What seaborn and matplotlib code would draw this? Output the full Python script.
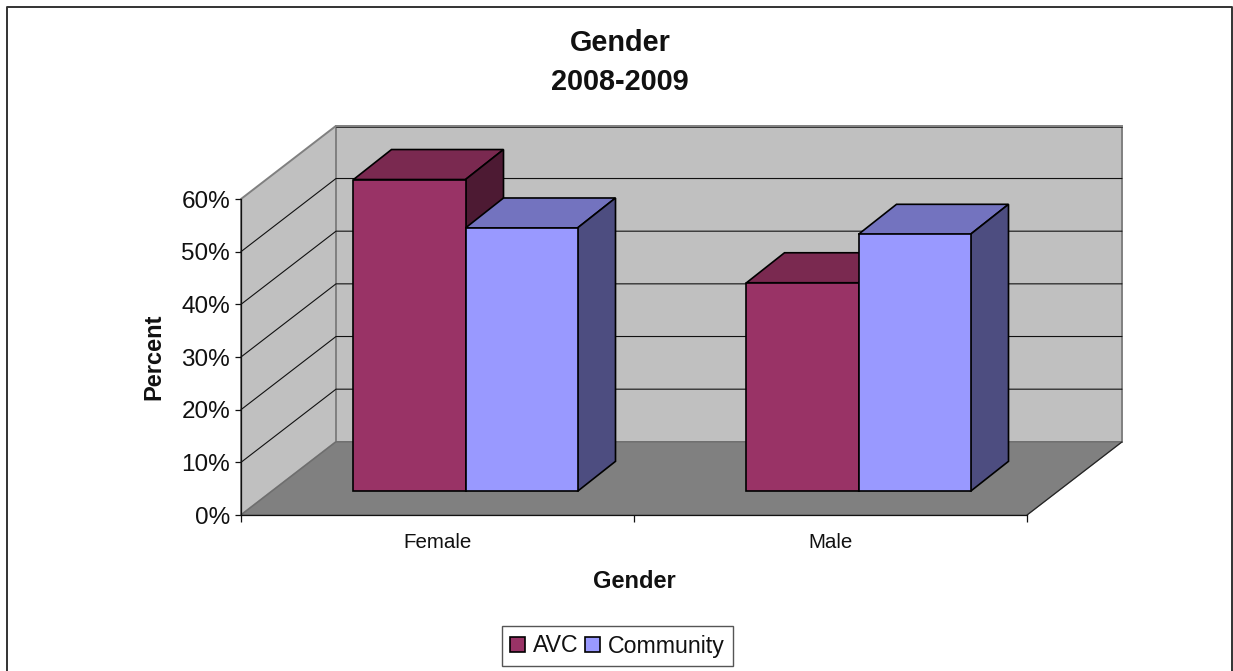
import matplotlib
matplotlib.use('Agg')
import matplotlib.pyplot as plt
from matplotlib.patches import Polygon
from matplotlib.lines import Line2D
import pandas as pd
import seaborn as sns

categories = ['Female', 'Male']
avc = [59.2, 39.6]
community = [50.0, 48.8]
series_names = ['AVC', 'Community']
y_ticks = [0, 10, 20, 30, 40, 50, 60]
y_labels = ['0%', '10%', '20%', '30%', '40%', '50%', '60%']

front_colors = {'AVC': '#993366', 'Community': '#9999FF'}
top_colors = {'AVC': '#7A2950', 'Community': '#7373BF'}
side_colors = {'AVC': '#4D1A33', 'Community': '#4D4D80'}
ink = '#111111'

# depth of the fake 3d box, in data units (393 px per category, 5.27 px per percent)
wall_dx = 95 / 393
wall_dy = 73.2 / 5.27
bar_shift_x = 28 / 393
bar_shift_y = 4.5
bar_dx = 38 / 393
bar_dy = 30 / 5.27

sns.set_theme(style='white')
plt.rcParams['font.family'] = ['Liberation Sans', 'DejaVu Sans']
plt.rcParams['text.color'] = ink
plt.rcParams['axes.labelcolor'] = ink

df = pd.DataFrame({
    'Gender': categories * 2,
    'Percent': avc + community,
    'Series': ['AVC'] * 2 + ['Community'] * 2,
})

W, H = 1233, 671
fig = plt.figure(figsize=(W / 100, H / 100), dpi=100)
ax = fig.add_axes([241 / W, 1 - 515 / H, 786 / W, 316 / H])

sns.barplot(data=df, x='Gender', y='Percent', hue='Series', palette=front_colors,
            hue_order=series_names, order=categories, width=0.57, saturation=1,
            edgecolor='black', linewidth=1.2, ax=ax)
ax.set_xlim(-0.5, 1.5)
ax.set_ylim(0, 60)

# box behind the bars
x0, x1 = -0.5, 1.5
wall_kw = dict(clip_on=False, joinstyle='miter')
ax.add_patch(Polygon([(x0, 0), (x0, 60), (x0 + wall_dx, 60 + wall_dy), (x0 + wall_dx, wall_dy)],
                     fc='#C0C0C0', ec='#808080', lw=1.4, zorder=0.5, **wall_kw))
ax.add_patch(Polygon([(x0 + wall_dx, wall_dy), (x0 + wall_dx, 60 + wall_dy),
                      (x1 + wall_dx, 60 + wall_dy), (x1 + wall_dx, wall_dy)],
                     fc='#C0C0C0', ec='#808080', lw=1.4, zorder=0.5, **wall_kw))
ax.add_patch(Polygon([(x0, 0), (x1, 0), (x1 + wall_dx, wall_dy), (x0 + wall_dx, wall_dy)],
                     fc='#808080', ec='#6E6E6E', lw=1, zorder=0.6, **wall_kw))
ax.add_line(Line2D([x1, x1 + wall_dx], [0, wall_dy], color='#222222', lw=0.8, zorder=0.7, clip_on=False))

for t in y_ticks[1:-1]:
    ax.add_line(Line2D([x0, x0 + wall_dx, x1 + wall_dx], [t, t + wall_dy, t + wall_dy],
                       color=ink, lw=0.8, zorder=0.55, clip_on=False))
# top grid line only shows on the back wall, just under the grey edge
ax.add_line(Line2D([x0 + wall_dx, x1 + wall_dx], [60 + wall_dy - 0.2] * 2,
                   color='#333333', lw=0.7, zorder=0.55, clip_on=False))

# bars: move the fronts back onto the floor and add top and side faces
bars = []
for name, container in zip(series_names, ax.containers):
    for bar in container:
        bars.append((name, bar))
bars.sort(key=lambda b: b[1].get_x())

for i, (name, bar) in enumerate(bars):
    bar.set_x(bar.get_x() + bar_shift_x)
    bar.set_y(bar.get_y() + bar_shift_y)
    bar.set_clip_on(False)
    bar.set_zorder(3 + i)
    left = bar.get_x()
    right = left + bar.get_width()
    bot = bar.get_y()
    top = bot + bar.get_height()
    ax.add_patch(Polygon([(left, top), (right, top), (right + bar_dx, top + bar_dy), (left + bar_dx, top + bar_dy)],
                         fc=top_colors[name], ec='black', lw=1.2, zorder=2.9 + i, clip_on=False))
    ax.add_patch(Polygon([(right, bot), (right, top), (right + bar_dx, top + bar_dy), (right + bar_dx, bot + bar_dy)],
                         fc=side_colors[name], ec='black', lw=1.2, zorder=2.9 + i, clip_on=False))

# axes
sns.despine(ax=ax, top=True, right=True)
for side in ['left', 'bottom']:
    ax.spines[side].set_color(ink)
    ax.spines[side].set_linewidth(0.9)
    ax.spines[side].set_zorder(2)
ax.set_yticks(y_ticks, labels=y_labels)
ax.set_xticks([-0.5, 0.5, 1.5], labels=['', '', ''])
ax.set_xticks([0, 1], labels=categories, minor=True)
ax.tick_params(axis='y', which='major', left=True, length=4.3, width=0.9, color=ink,
               labelcolor=ink, pad=3.6, labelsize=17.5)
ax.tick_params(axis='x', which='major', bottom=True, length=5, width=0.9, color=ink)
ax.tick_params(axis='x', which='minor', bottom=False, length=0, pad=13, labelsize=14.8, labelcolor=ink)
ax.set_xlabel('Gender', fontweight='bold', fontsize=17, va='center')
ax.set_ylabel('Percent', fontweight='bold', fontsize=17, va='center')
ax.xaxis.set_label_coords(0.5, (515 - 582) / 316)
ax.yaxis.set_label_coords((154 - 241) / 786, (515 - 357) / 316)

sns.move_legend(ax, 'center', bbox_to_anchor=(617.5 / W, 1 - 646 / H), bbox_transform=fig.transFigure,
                ncols=2, title=None, frameon=True, fancybox=False, fontsize=16.7,
                edgecolor='#555555', framealpha=1, handlelength=0.65, handleheight=0.62,
                handletextpad=0.35, columnspacing=0.25, borderpad=0.37, borderaxespad=0)
ax.get_legend().set_zorder(20)
ax.get_legend().get_frame().set_linewidth(1)

fig.text(620 / W, 1 - 62.5 / H, 'Gender\n2008-2009', ha='center', va='center', fontweight='bold',
         fontsize=20.8, linespacing=1.5)

# chart border, bottom edge is cut off in the original
fig.add_artist(Line2D([7 / W, 7 / W, 1232 / W, 1232 / W], [0, 1 - 6.5 / H, 1 - 6.5 / H, 0],
                      color='#333333', lw=1.4))

fig.savefig('out.png', dpi=100)
